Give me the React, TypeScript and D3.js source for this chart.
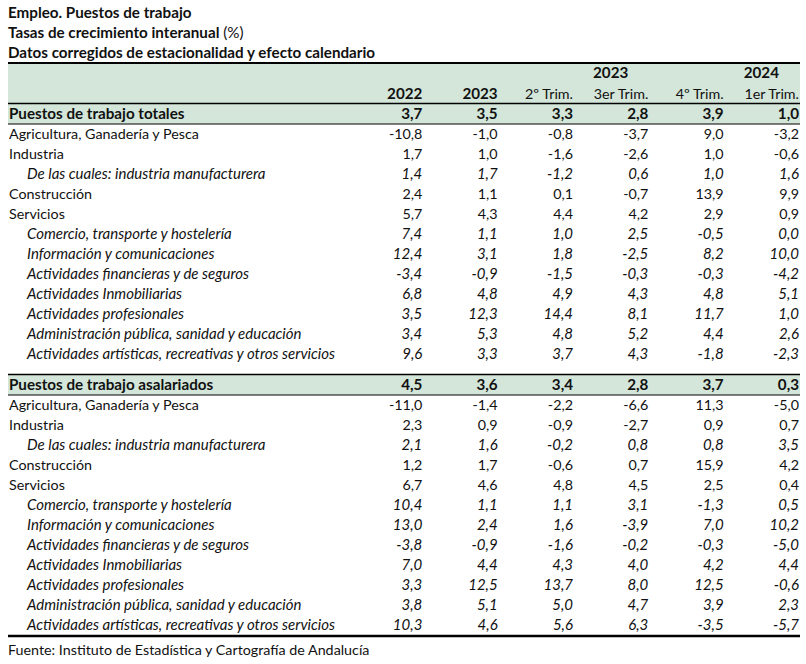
import React from "react";
import * as d3 from "d3";

const titles = [
  "Empleo. Puestos de trabajo",
  "Tasas de crecimiento interanual",
  "Datos corregidos de estacionalidad y efecto calendario",
];
const columns = ["2022", "2023", "2º Trim.", "3er Trim.", "4º Trim.", "1er Trim."];
const groupHeaders = [
  { label: "2023", from: 2, to: 4 },
  { label: "2024", from: 5, to: 5 },
];

const sectorLabels = [
  "Agricultura, Ganadería y Pesca",
  "Industria",
  "De las cuales: industria manufacturera",
  "Construcción",
  "Servicios",
  "Comercio, transporte y hostelería",
  "Información y comunicaciones",
  "Actividades financieras y de seguros",
  "Actividades Inmobiliarias",
  "Actividades profesionales",
  "Administración pública, sanidad y educación",
  "Actividades artísticas, recreativas y otros servicios",
];
const sectorItalic = [false, false, true, false, false, true, true, true, true, true, true, true];

const totalLabel = "Puestos de trabajo totales";
const totalValues = [3.7, 3.5, 3.3, 2.8, 3.9, 1.0];
const totalRows = [
  [-10.8, -1.0, -0.8, -3.7, 9.0, -3.2],
  [1.7, 1.0, -1.6, -2.6, 1.0, -0.6],
  [1.4, 1.7, -1.2, 0.6, 1.0, 1.6],
  [2.4, 1.1, 0.1, -0.7, 13.9, 9.9],
  [5.7, 4.3, 4.4, 4.2, 2.9, 0.9],
  [7.4, 1.1, 1.0, 2.5, -0.5, 0.0],
  [12.4, 3.1, 1.8, -2.5, 8.2, 10.0],
  [-3.4, -0.9, -1.5, -0.3, -0.3, -4.2],
  [6.8, 4.8, 4.9, 4.3, 4.8, 5.1],
  [3.5, 12.3, 14.4, 8.1, 11.7, 1.0],
  [3.4, 5.3, 4.8, 5.2, 4.4, 2.6],
  [9.6, 3.3, 3.7, 4.3, -1.8, -2.3],
];

const salariedLabel = "Puestos de trabajo asalariados";
const salariedValues = [4.5, 3.6, 3.4, 2.8, 3.7, 0.3];
const salariedRows = [
  [-11.0, -1.4, -2.2, -6.6, 11.3, -5.0],
  [2.3, 0.9, -0.9, -2.7, 0.9, 0.7],
  [2.1, 1.6, -0.2, 0.8, 0.8, 3.5],
  [1.2, 1.7, -0.6, 0.7, 15.9, 4.2],
  [6.7, 4.6, 4.8, 4.5, 2.5, 0.4],
  [10.4, 1.1, 1.1, 3.1, -1.3, 0.5],
  [13.0, 2.4, 1.6, -3.9, 7.0, 10.2],
  [-3.8, -0.9, -1.6, -0.2, -0.3, -5.0],
  [7.0, 4.4, 4.3, 4.0, 4.2, 4.4],
  [3.3, 12.5, 13.7, 8.0, 12.5, -0.6],
  [3.8, 5.1, 5.0, 4.7, 3.9, 2.3],
  [10.3, 4.6, 5.6, 6.3, -3.5, -5.7],
];

const source = "Fuente: Instituto de Estadística y Cartografía de Andalucía";

const W = 806;
const H = 664;
const FONT = "Lato, 'Open Sans', sans-serif";
const GREEN = "#d3e6d9";
const FS = 14.3;
const FS_BOLD = 15.2;
const FS_IT = 15;

const locale = d3.formatLocale({
  decimal: ",",
  thousands: ".",
  grouping: [3],
  currency: ["", "€"],
  minus: "-",
});
const fmt = locale.format(".1f");

export default function App() {
  const left = 8;
  const right = 799;
  const x = d3.scaleBand<number>().domain(d3.range(columns.length)).range([347, right]);
  const colRight = (i: number) => (x(i) as number) + x.bandwidth();
  const colCenter = (i: number) => (x(i) as number) + x.bandwidth() / 2;

  const rowH = 20;
  const sec1Top = 104;
  const sec2Top = 375;

  const renderSection = (top: number, label: string, vals: number[], rows: number[][], key: string) => {
    const y = d3.scaleLinear().domain([0, 1]).range([top, top + rowH]);
    return (
      <g key={key}>
        <rect x={left} y={top} width={right - left + 1} height={rowH} fill={GREEN} />
        <line x1={left} x2={right + 1} y1={top - 0.5} y2={top - 0.5} stroke="#000" strokeWidth={1.5} />
        <line x1={left} x2={right + 1} y1={top + rowH} y2={top + rowH} stroke="#000" strokeWidth={1} />
        <text x={left + 1} y={y(0.5)} dy="0.35em" fontWeight="bold" fontSize={FS_BOLD}>
          {label}
        </text>
        {vals.map((v, i) => (
          <text key={i} x={colRight(i)} y={y(0.5)} dy="0.35em" textAnchor="end" fontWeight="bold" fontSize={FS_BOLD}>
            {fmt(v)}
          </text>
        ))}
        {rows.map((r, ri) => {
          const it = sectorItalic[ri];
          const cy = y(ri + 1.5);
          return (
            <g key={ri} fontStyle={it ? "italic" : "normal"} fontSize={it ? FS_IT : FS}>
              <text x={it ? 27 : left + 1} y={cy} dy="0.35em">
                {sectorLabels[ri]}
              </text>
              {r.map((v, i) => (
                <text key={i} x={colRight(i)} y={cy} dy="0.35em" textAnchor="end">
                  {fmt(v)}
                </text>
              ))}
            </g>
          );
        })}
      </g>
    );
  };

  return (
    <svg width={W} height={H} style={{ position: "absolute", left: 0, top: 0, background: "#fff" }}
      fontFamily={FONT} fontSize={FS} fill="#111">
      <rect x={0} y={0} width={W} height={H} fill="#fff" />
      {titles.map((t, i) => (
        <text key={i} x={8} y={13 + i * 20} dy="0.35em" fontWeight="bold" fontSize={FS_BOLD}>
          {t}
          {i === 1 ? <tspan fontWeight="normal"> (%)</tspan> : null}
        </text>
      ))}
      <rect x={left} y={63} width={right - left + 1} height={41} fill={GREEN} />
      <line x1={left} x2={right + 1} y1={63} y2={63} stroke="#000" strokeWidth={2} />
      {groupHeaders.map((g) => (
        <text key={g.label} x={(colCenter(g.from) + colCenter(g.to)) / 2}
          y={73} dy="0.35em" textAnchor="middle" fontWeight="bold" fontSize={FS_BOLD}>
          {g.label}
        </text>
      ))}
      {columns.map((c, i) => (
        <text key={i} x={colRight(i)} y={94} dy="0.35em" textAnchor="end" fontWeight={i < 2 ? "bold" : "normal"}
          fontSize={i < 2 ? FS_BOLD : FS}>
          {c}
        </text>
      ))}
      {renderSection(sec1Top, totalLabel, totalValues, totalRows, "s1")}
      {renderSection(sec2Top, salariedLabel, salariedValues, salariedRows, "s2")}
      <line x1={left} x2={right + 1} y1={636} y2={636} stroke="#000" strokeWidth={2.5} />
      <text x={8} y={650} dy="0.35em">{source}</text>
    </svg>
  );
}
